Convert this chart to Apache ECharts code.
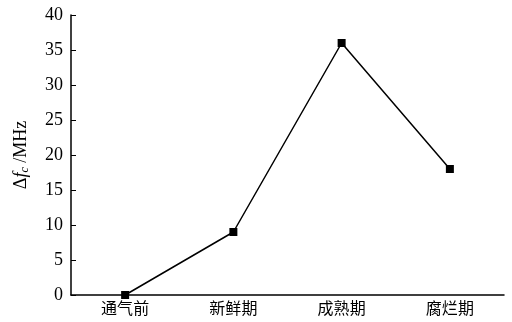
<!DOCTYPE html>
<html>
<head>
<meta charset="utf-8">
<script src="https://cdn.jsdelivr.net/npm/echarts@6/dist/echarts.min.js"></script>
<style>
html,body{margin:0;padding:0;background:#fff;}
#chart{width:512px;height:322px;}
</style>
</head>
<body>
<div id="chart"></div>
<script>
// Stages and measured frequency shift
const stages = ['通气前', '新鲜期', '成熟期', '腐烂期'];
const deltaFc = [0, 9, 36, 18];
const yTicks = [0, 5, 10, 15, 20, 25, 30, 35, 40];

const serif = '"Liberation Serif", "DejaVu Serif", serif';
const cjk = '"Noto Sans CJK SC", "Liberation Serif", serif';

const chart = echarts.init(document.getElementById('chart'));
chart.setOption({
  animation: false,
  backgroundColor: '#fff',
  grid: { left: 71, right: 8, top: 15, bottom: 27 },
  xAxis: {
    type: 'category',
    data: stages,
    boundaryGap: true,
    axisLine: { lineStyle: { color: '#000', width: 1.5 } },
    axisTick: { inside: true, alignWithLabel: true, length: 5, lineStyle: { color: '#000' } },
    axisLabel: { color: '#000', fontFamily: cjk, fontSize: 16, margin: 5 }
  },
  yAxis: {
    type: 'value',
    min: yTicks[0],
    max: yTicks[yTicks.length - 1],
    interval: yTicks[1] - yTicks[0],
    splitLine: { show: false },
    axisLine: { show: true, lineStyle: { color: '#000', width: 1.5 } },
    axisTick: { show: true, inside: true, length: 5, lineStyle: { color: '#000' } },
    axisLabel: { color: '#000', fontFamily: serif, fontSize: 18, margin: 8 },
    name: '{d|Δ}{f|f}{s|c}{u| /MHz}',
    nameLocation: 'middle',
    nameRotate: 90,
    nameGap: 40,
    nameTextStyle: {
      rich: {
        d: { fontFamily: serif, fontSize: 18, color: '#000' },
        f: { fontFamily: serif, fontSize: 18, fontStyle: 'italic', color: '#000' },
        s: { fontFamily: serif, fontSize: 12, fontStyle: 'italic', color: '#000', verticalAlign: 'bottom', padding: [7, 0, 0, 0] },
        u: { fontFamily: serif, fontSize: 18, color: '#000' }
      }
    }
  },
  series: [{
    type: 'line',
    data: deltaFc,
    symbol: 'rect',
    symbolSize: 8,
    showAllSymbol: true,
    lineStyle: { color: '#000', width: 1.5 },
    itemStyle: { color: '#000' }
  }]
});
</script>
</body>
</html>
